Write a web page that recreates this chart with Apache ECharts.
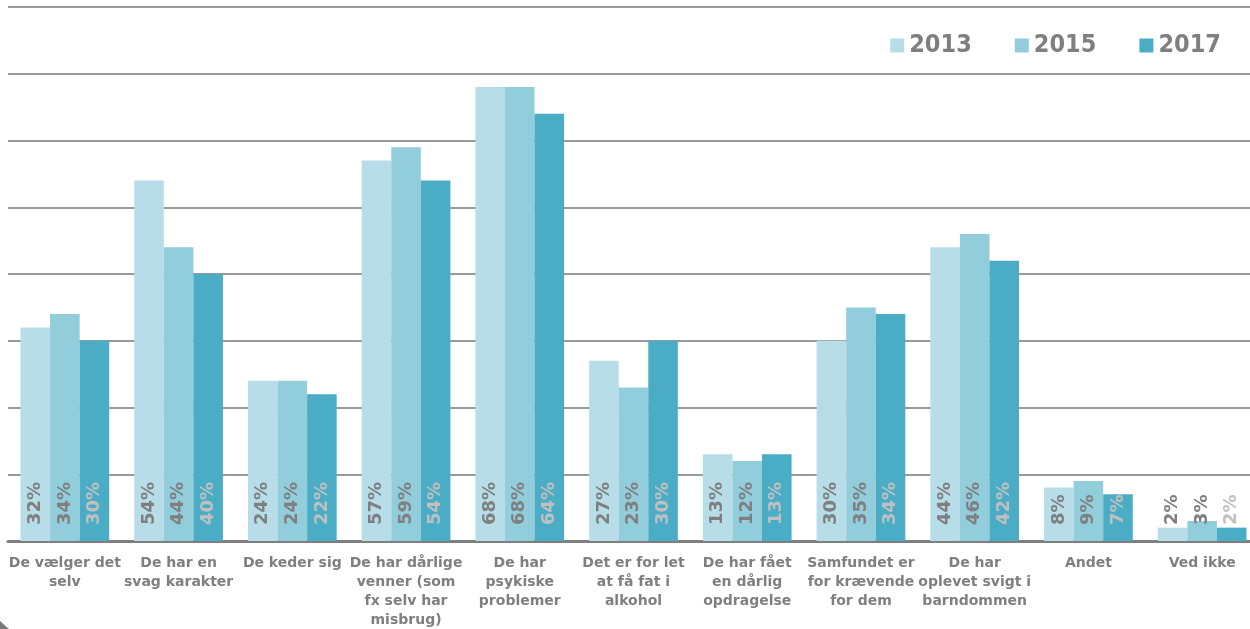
<!DOCTYPE html>
<html><head><meta charset="utf-8">
<script src="https://cdn.jsdelivr.net/npm/echarts@6/dist/echarts.min.js"></script>
<style>html,body{margin:0;padding:0;background:#fff}#c{width:1250px;height:629px}</style>
</head><body><div id="c"></div>
<script>
const categories = ['De vælger det\nselv','De har en\nsvag karakter','De keder sig','De har dårlige\nvenner (som\nfx selv har\nmisbrug)','De har\npsykiske\nproblemer','Det er for let\nat få fat i\nalkohol','De har fået\nen dårlig\nopdragelse','Samfundet er\nfor krævende\nfor dem','De har\noplevet svigt i\nbarndommen','Andet','Ved ikke'];
const years = ['2013','2015','2017'];
const v2013 = [32,54,24,57,68,27,13,30,44,8,2];
const v2015 = [34,44,24,59,68,23,12,35,46,9,3];
const v2017 = [30,40,22,54,64,30,13,34,42,7,2];
const colors = ['#b7dde8','#92cddc','#4bacc6'];
const labelColors = ['#7f7f7f','#7f7f7f','#c0c0c0'];
const font = '"DejaVu Sans", Verdana, sans-serif';
const chart = echarts.init(document.getElementById('c'));
const mk = (name, data, i) => ({
  name, type:'bar', data, barGap:'0%', barCategoryGap:'22%',
  itemStyle:{color:colors[i]},
  label:{show:true, position:'insideBottom', rotate:90, align:'left', verticalAlign:'middle', distance:16,
    formatter:p=>p.value+'%', color:labelColors[i], fontFamily:font, fontWeight:'bold', fontSize:18}
});
chart.setOption({
  animation:false,
  legend:{data:years, right:24, top:28, itemWidth:14, itemHeight:14, itemGap:43, icon:'rect',
    textStyle:{color:'#7f7f7f', fontFamily:'"DejaVu Sans Condensed", "DejaVu Sans", sans-serif', fontWeight:'bold', fontSize:25}},
  grid:{left:8, right:-9, top:7, bottom:88, containLabel:false, outerBoundsMode:'none'},
  xAxis:{type:'category', data:categories, axisTick:{show:false},
    axisLine:{lineStyle:{color:'#7f7f7f', width:3}},
    axisLabel:{interval:0, color:'#7f7f7f', fontFamily:font, fontWeight:'bold', fontSize:14, lineHeight:19, margin:13}},
  yAxis:{type:'value', min:0, max:80, interval:10, axisLabel:{show:false}, axisLine:{show:false}, axisTick:{show:false},
    splitLine:{lineStyle:{color:'#999', width:2}}},
  graphic:[{type:'polygon', shape:{points:[[0,621],[9,629],[0,629]]}, style:{fill:'#7a7a7a'}}],
  series:[mk(years[0],v2013,0), mk(years[1],v2015,1), mk(years[2],v2017,2)]
});
</script></body></html>
